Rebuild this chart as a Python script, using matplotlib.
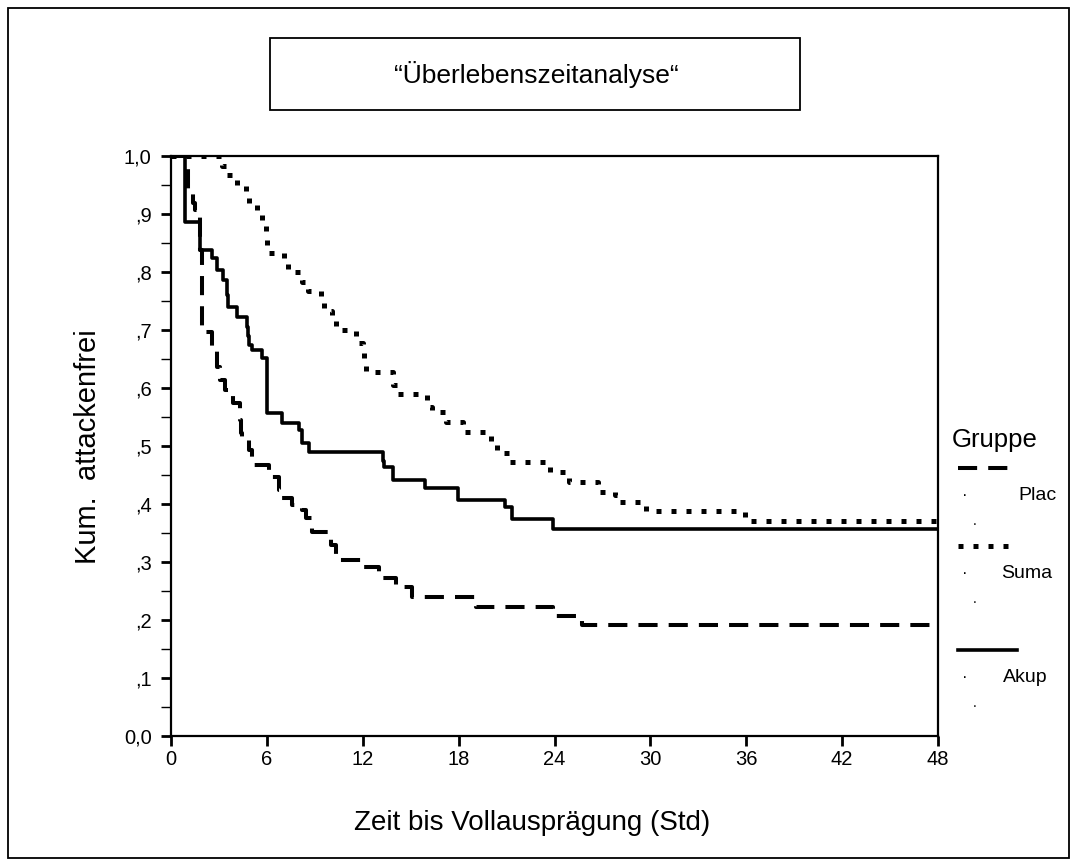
import matplotlib
matplotlib.use("Agg")
import matplotlib.pyplot as plt
from matplotlib.lines import Line2D
from matplotlib.patches import Rectangle

plt.rcParams['font.family'] = ['Liberation Sans', 'DejaVu Sans']

# Kaplan-Meier steps (hours, cumulative attack-free)
plac_t = [0, 1.06, 1.37, 1.49, 1.8, 1.93, 2.55, 2.86, 3.04, 3.35, 3.85, 4.29, 4.41, 4.47,
          4.9, 5.09, 6.15, 6.77, 6.96, 7.58, 8.2, 8.45, 8.82, 10.0, 10.3, 11.95, 13.0,
          14.1, 15.1, 19.1, 23.9, 25.7]
plac_s = [1.0, 0.936, 0.919, 0.907, 0.838, 0.697, 0.672, 0.636, 0.614, 0.597, 0.574, 0.545,
          0.522, 0.51, 0.493, 0.467, 0.447, 0.424, 0.41, 0.398, 0.39, 0.376, 0.352, 0.33,
          0.303, 0.291, 0.272, 0.257, 0.24, 0.222, 0.207, 0.191]

suma_t = [0, 3.2, 3.5, 4.1, 4.7, 4.9, 5.4, 5.7, 5.95, 6.0, 7.1, 7.3, 8.2, 8.6, 9.4, 9.6,
          10.1, 10.3, 11.6, 11.75, 12.0, 12.1, 12.2, 13.9, 14.15, 16.0, 16.2, 16.35, 17.2,
          18.25, 18.4, 19.8, 20.05, 20.4, 21.15, 23.45, 23.7, 24.9, 26.7, 27.8, 28.0,
          29.45, 29.7, 35.9]
suma_s = [1.0, 0.983, 0.967, 0.95, 0.933, 0.917, 0.9, 0.883, 0.867, 0.833, 0.817, 0.8,
          0.783, 0.767, 0.75, 0.733, 0.717, 0.7, 0.69, 0.678, 0.66, 0.643, 0.627, 0.605,
          0.59, 0.576, 0.567, 0.558, 0.542, 0.535, 0.524, 0.517, 0.505, 0.488, 0.472,
          0.467, 0.455, 0.438, 0.421, 0.415, 0.403, 0.398, 0.388, 0.371]

akup_t = [0, 0.87, 1.8, 2.55, 2.86, 3.23, 3.48, 3.55, 4.1, 4.78, 4.85, 4.9, 5.1, 5.7, 6.0,
          6.95, 8.0, 8.2, 8.65, 13.25, 13.35, 13.9, 15.9, 17.95, 20.9, 21.35, 23.9]
akup_s = [1.0, 0.886, 0.838, 0.824, 0.803, 0.786, 0.76, 0.74, 0.722, 0.705, 0.69, 0.674,
          0.666, 0.652, 0.557, 0.54, 0.528, 0.505, 0.49, 0.475, 0.464, 0.441, 0.428,
          0.407, 0.395, 0.374, 0.357]

t_end = 48
x_ticks = [0, 6, 12, 18, 24, 30, 36, 42, 48]
y_ticks = [0.0, 0.1, 0.2, 0.3, 0.4, 0.5, 0.6, 0.7, 0.8, 0.9, 1.0]
y_labels = ['0,0', ',1', ',2', ',3', ',4', ',5', ',6', ',7', ',8', ',9', '1,0']
groups = ['Plac', 'Suma', 'Akup']

W, H = 1077, 866
fig = plt.figure(figsize=(W / 100, H / 100), dpi=100)
ax = fig.add_axes([171 / W, 1 - 736 / H, 767 / W, 580 / H])

plac_style = dict(color='black', lw=2.9, linestyle=(0, (4.75, 2.75)))
suma_style = dict(color='black', lw=3.6, linestyle=(0, (1, 2)))
akup_style = dict(color='black', lw=2.6, linestyle='-')

ax.step(plac_t + [t_end], plac_s + [plac_s[-1]], where='post', **plac_style)
ax.step(suma_t + [t_end], suma_s + [suma_s[-1]], where='post', **suma_style)
ax.step(akup_t + [t_end], akup_s + [akup_s[-1]], where='post', **akup_style)

ax.set_xlim(0, 48)
ax.set_ylim(0, 1.0)
ax.set_xticks(x_ticks)
ax.set_yticks(y_ticks)
ax.set_yticklabels(y_labels)
ax.set_yticks([0.05 + 0.1 * i for i in range(10)], minor=True)
ax.tick_params(axis='both', labelsize=14.5, direction='out', width=2, length=7)
ax.tick_params(axis='x', pad=3)
ax.tick_params(axis='y', pad=7)
ax.tick_params(axis='y', which='minor', width=1, length=7)
for s in ax.spines.values():
    s.set_linewidth(1.6)

fig.text(88 / W, 1 - 447 / H, 'Kum.  attackenfrei', fontsize=21, rotation=90,
         ha='center', va='center')
fig.text(532 / W, 1 - 823 / H, 'Zeit bis Vollausprägung (Std)', fontsize=20,
         ha='center', va='center')

# outer frame and title box
fig.add_artist(Rectangle((8 / W, 8 / H), 1061 / W, 850 / H, transform=fig.transFigure,
                         fill=False, lw=1.3, ec='black'))
fig.add_artist(Rectangle((270 / W, 1 - 110 / H), 530 / W, 72 / H, transform=fig.transFigure,
                         fill=False, lw=1.3, ec='black'))
fig.text(536 / W, 1 - 74 / H, '\u201c\u00dcberlebenszeitanalyse\u201c', fontsize=19,
         ha='center', va='center')

# legend on the right
fig.text(995 / W, 1 - 440 / H, 'Gruppe', fontsize=18.5, ha='center', va='center')
legend_rows = [(468, 1008, 1018, plac_style), (546, 1010, 1001, suma_style),
               (650, 1017, 1003, akup_style)]
for (ly, lx1, tx, st), name in zip(legend_rows, groups):
    fig.add_artist(Line2D([958 / W, lx1 / W], [1 - ly / H, 1 - ly / H],
                          transform=fig.transFigure, **st))
    fig.text(965 / W, 1 - (ly + 27) / H, '·', fontsize=12, ha='center', va='center')
    fig.text(tx / W, 1 - (ly + 27) / H, name, fontsize=14, ha='left', va='center')
    fig.text(975 / W, 1 - (ly + 53) / H, '.', fontsize=10, ha='center', va='center')

fig.savefig('out.png', dpi=100)
